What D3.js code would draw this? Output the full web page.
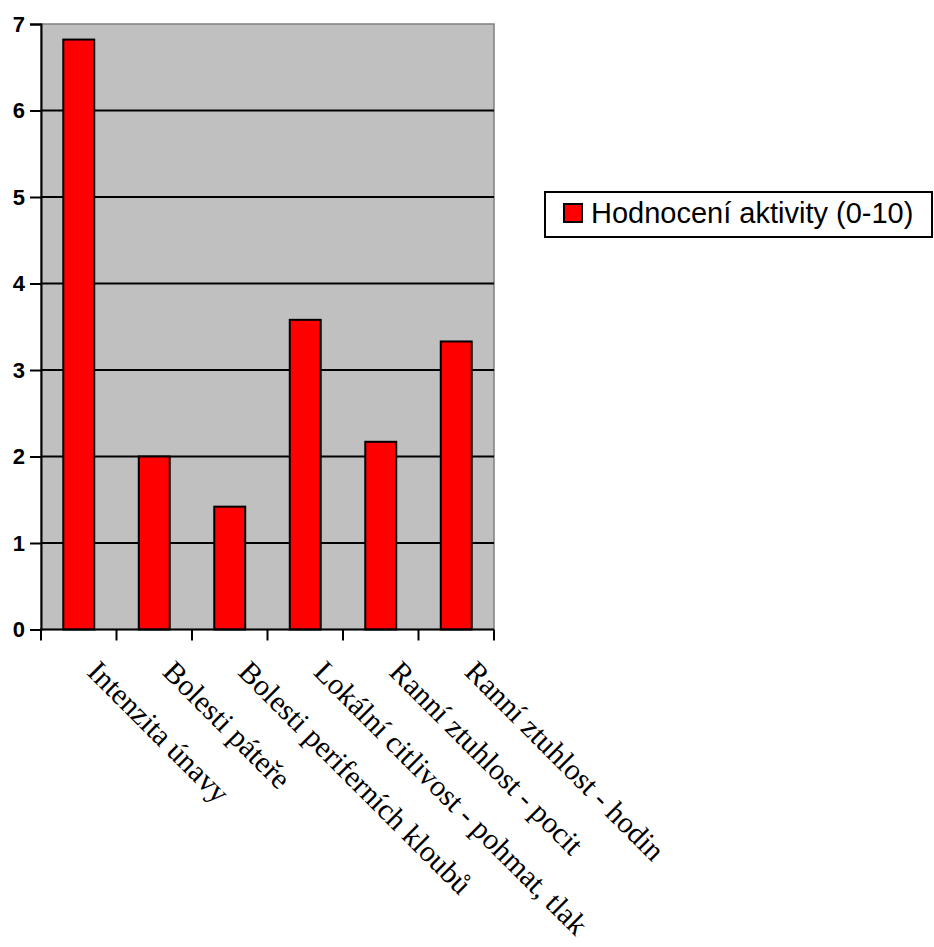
<!DOCTYPE html>
<html>
<head>
<meta charset="utf-8">
<script src="https://cdn.jsdelivr.net/npm/d3@7"></script>
<style>
  html, body { margin: 0; padding: 0; background: #fff; }
  svg { display: block; }
  .ylab { font-family: 'Liberation Sans', Arial, sans-serif; font-weight: bold; font-size: 22px; }
</style>
</head>
<body>
<svg id="chart" width="934" height="947"></svg>
<script>
// Categories and values of the activity assessment
const categories = [
  "Intenzita únavy",
  "Bolesti páteře",
  "Bolesti periferních kloubů",
  "Lokální citlivost - pohmat, tlak",
  "Ranní ztuhlost - pocit",
  "Ranní ztuhlost - hodin"
];
const values = [6.82, 2.0, 1.42, 3.58, 2.17, 3.33];
const yTicks = [0, 1, 2, 3, 4, 5, 6, 7];
const seriesName = "Hodnocení aktivity (0-10)";

const svg = d3.select("#chart");
const plot = { left: 41, right: 494, top: 24, bottom: 629.5 };

const x = d3.scaleBand()
  .domain(categories)
  .range([plot.left, plot.right])
  .padding(0);

const y = d3.scaleLinear()
  .domain([0, 7])
  .range([plot.bottom, plot.top]);

// Plot background
svg.append("rect")
  .attr("x", plot.left).attr("y", plot.top)
  .attr("width", plot.right - plot.left)
  .attr("height", plot.bottom - plot.top)
  .attr("fill", "#c0c0c0")
  .attr("stroke", "#808080")
  .attr("stroke-width", 1.5);

// Horizontal gridlines
svg.append("g")
  .selectAll("line")
  .data(yTicks.filter(d => d > 0 && d < 7))
  .join("line")
  .attr("x1", plot.left).attr("x2", plot.right)
  .attr("y1", d => y(d)).attr("y2", d => y(d))
  .attr("stroke", "#000")
  .attr("stroke-width", 2);

// Bars
const barFrac = 0.41;
svg.append("g")
  .selectAll("rect")
  .data(categories.map((c, i) => ({ c, v: values[i] })))
  .join("rect")
  .attr("x", d => x(d.c) + x.bandwidth() * (1 - barFrac) / 2)
  .attr("width", x.bandwidth() * barFrac)
  .attr("y", d => y(d.v))
  .attr("height", d => y(0) - y(d.v))
  .attr("fill", "#ff0000")
  .attr("stroke", "#000")
  .attr("stroke-width", 2);

// Y axis
const yAxis = svg.append("g")
  .attr("transform", `translate(${plot.left},0)`)
  .call(d3.axisLeft(y).tickValues(yTicks).tickSize(11).tickPadding(5).tickFormat(d3.format("d")));
yAxis.attr("font-size", 22).attr("font-family", "'Liberation Sans', Arial, sans-serif").attr("font-weight", "bold");
yAxis.select(".domain").attr("stroke", "#000").attr("stroke-width", 2);
yAxis.selectAll(".tick line").attr("stroke", "#000").attr("stroke-width", 2);
yAxis.selectAll(".tick text")
  .attr("class", "ylab")
  .attr("font-size", 22)
  .attr("fill", "#000");

// X axis with ticks at band boundaries
const boundaries = categories.map(c => x(c)).concat([plot.right]);
const xAxis = svg.append("g");
xAxis.append("line")
  .attr("x1", plot.left - 1).attr("x2", plot.right)
  .attr("y1", plot.bottom).attr("y2", plot.bottom)
  .attr("stroke", "#000").attr("stroke-width", 2);
xAxis.selectAll("line.tk")
  .data(boundaries)
  .join("line")
  .attr("class", "tk")
  .attr("x1", d => d).attr("x2", d => d)
  .attr("y1", plot.bottom).attr("y2", plot.bottom + 11)
  .attr("stroke", "#000").attr("stroke-width", 2);

// Rotated category labels
xAxis.selectAll("text")
  .data(categories)
  .join("text")
  .attr("transform", d => `translate(${x(d) + x.bandwidth() / 2 + 7},${plot.bottom + 44}) rotate(45)`)
  .attr("text-anchor", "start")
  .style("font-family", "'Liberation Serif', 'Times New Roman', serif")
  .style("font-size", "30px")
  .attr("fill", "#000")
  .text(d => d);

// Legend
const legend = svg.append("g");
legend.append("rect")
  .attr("x", 545).attr("y", 192)
  .attr("width", 387).attr("height", 45)
  .attr("fill", "#fff")
  .attr("stroke", "#000")
  .attr("stroke-width", 2);
legend.append("rect")
  .attr("x", 564).attr("y", 204)
  .attr("width", 18).attr("height", 18)
  .attr("fill", "#ff0000")
  .attr("stroke", "#000")
  .attr("stroke-width", 2);
legend.append("text")
  .attr("x", 591).attr("y", 223)
  .style("font-family", "'Liberation Sans', Arial, sans-serif")
  .style("font-size", "29px")
  .attr("fill", "#000")
  .text(seriesName);
</script>
</body>
</html>
